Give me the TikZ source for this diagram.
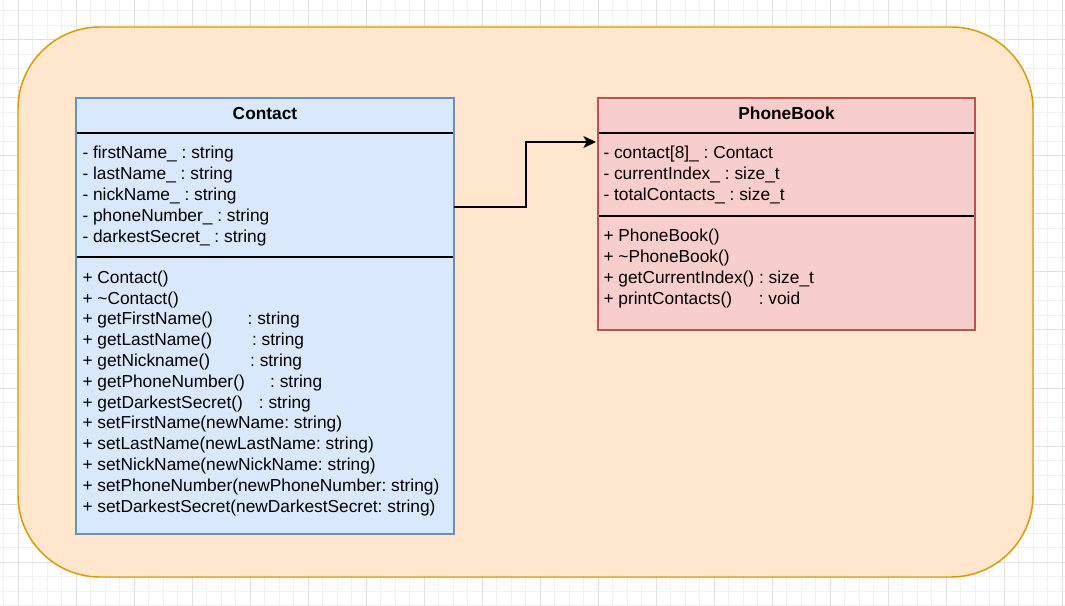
\documentclass[tikz,border=0pt]{standalone}
\usepackage{fontspec}
\setmainfont{Liberation Sans}
\usetikzlibrary{arrows.meta}
\frenchspacing

\definecolor{gridminor}{RGB}{240,240,240}
\definecolor{gridmajor}{RGB}{224,224,224}
\definecolor{groupfill}{HTML}{FFE6CC}
\definecolor{groupline}{HTML}{D79B00}
\definecolor{contactfill}{HTML}{DAE8FC}
\definecolor{contactline}{HTML}{6C8EBF}
\definecolor{bookfill}{HTML}{F8CECC}
\definecolor{bookline}{HTML}{B85450}

\tikzset{every picture/.style={line width=0.75pt}}

\begin{document}
\begin{tikzpicture}[x=0.75pt,y=0.75pt,yscale=-1,xscale=1,
    classbox/.style={draw, line width=1.1pt, anchor=north west, inner sep=0pt, outer sep=0pt},
    divider/.style={draw=black, line width=1.1pt},
    classtitle/.style={anchor=base, inner sep=0pt, font=\fontsize{13}{15.6}\selectfont\bfseries},
    member/.style={anchor=base west, inner sep=0pt, font=\fontsize{13}{15.6}\selectfont\frenchspacing},
    assoc/.style={draw=black, line width=1.1pt, -{Stealth[length=9.5pt,width=9pt,inset=2.5pt]}}]
    \useasboundingbox (0,0) rectangle (1065,606);
    \fill[white] (0,0) rectangle (1065,606);

    %Grid
    \foreach \k in {0,...,73} \draw[gridminor] ({3.8+14.5*\k},0) -- ({3.8+14.5*\k},606);
    \foreach \k in {0,...,41} \draw[gridminor] (0,{11+14.5*\k}) -- (1065,{11+14.5*\k});
    \foreach \k in {0,...,18} \draw[gridmajor] ({18.3+58*\k},0) -- ({18.3+58*\k},606);
    \foreach \k in {0,...,9} \draw[gridmajor] (0,{40+58*\k}) -- (1065,{40+58*\k});

    %Shape: Rounded Rectangle (group)
    \draw[fill=groupfill, draw=groupline, line width=1.1pt, rounded corners=61.5pt] (18,27) rectangle (1033,577);

    %Shape: Class Contact
    \node[classbox, fill=contactfill, draw=contactline, minimum width=283.5pt, minimum height=327pt] (contact) at (76,98) {};
    \draw[divider] (contact.west |- 0,133) -- (contact.east |- 0,133);
    \draw[divider] (contact.west |- 0,257) -- (contact.east |- 0,257);
    \draw[contactline, line width=1.1pt] (contact.north west) rectangle (contact.south east);

    %Shape: Class PhoneBook
    \node[classbox, fill=bookfill, draw=bookline, minimum width=282.75pt, minimum height=174pt] (phonebook) at (598,98) {};
    \draw[divider] (phonebook.west |- 0,133) -- (phonebook.east |- 0,133);
    \draw[divider] (phonebook.west |- 0,216) -- (phonebook.east |- 0,216);
    \draw[bookline, line width=1.1pt] (phonebook.north west) rectangle (phonebook.south east);

    %Connector
    \coordinate (bend) at (526,207);
    \draw[assoc] (contact.east |- bend) -- (bend) |- ([xshift=-1.5pt]phonebook.west |- 0,142);

    % Text Node
    \node[classtitle] (contacttitle) at (265,120) {Contact};
    \node[classtitle] (booktitle) at (786.5,120) {PhoneBook};

    % Text Nodes: Contact attributes
    \foreach \txt [count=\i from 0] in {
        - firstName\_ : string,
        - lastName\_ : string,
        - nickName\_ : string,
        - phoneNumber\_ : string,
        - darkestSecret\_ : string}
      \node[member] (cattr\i) at (82,{159+20.8*\i}) {\txt};

    % Text Nodes: Contact methods
    \foreach \txt [count=\i from 0] in {
        + Contact(),
        + \textasciitilde Contact(),
        + getFirstName()\hspace*{26pt}: string,
        + getLastName()\hspace*{30pt}: string,
        + getNickname()\hspace*{30pt}: string,
        + getPhoneNumber()\hspace*{19pt}: string,
        + getDarkestSecret()\hspace*{12pt}: string,
        + setFirstName(newName: string),
        + setLastName(newLastName: string),
        + setNickName(newNickName: string),
        + setPhoneNumber(newPhoneNumber: string),
        + setDarkestSecret(newDarkestSecret: string)}
      \node[member] (cmeth\i) at (82,{283.3+20.8*\i}) {\txt};

    % Text Nodes: PhoneBook attributes
    \foreach \txt [count=\i from 0] in {
        - contact[8]\_ : Contact,
        - currentIndex\_ : size\_t,
        - totalContacts\_ : size\_t}
      \node[member] (battr\i) at (603,{158.5+20.8*\i}) {\txt};

    % Text Nodes: PhoneBook methods
    \foreach \txt [count=\i from 0] in {
        + PhoneBook(),
        + \textasciitilde PhoneBook(),
        + getCurrentIndex() : size\_t,
        + printContacts()\hspace*{20pt}: void}
      \node[member] (bmeth\i) at (603,{241.7+20.8*\i}) {\txt};

\end{tikzpicture}
\end{document}
